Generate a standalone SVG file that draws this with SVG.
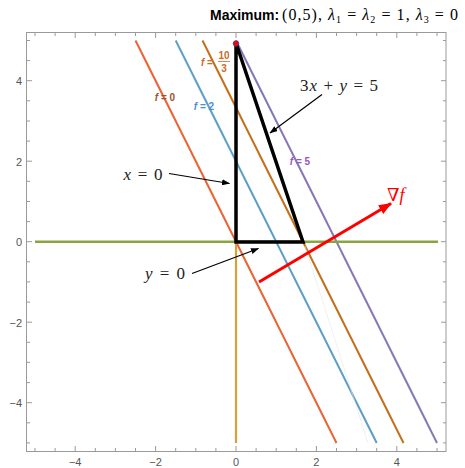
<svg xmlns="http://www.w3.org/2000/svg" width="465" height="468" viewBox="0 0 465 468">
<defs>
<style>
.frame{fill:none;stroke:#9a9a9a;stroke-width:1}
.tick{stroke:#9a9a9a;stroke-width:1}
.tl{font-family:"Liberation Sans",Arial,sans-serif;font-size:11px;fill:#555}
.fl{fill:none;stroke-width:2;stroke-linecap:butt}
.math{font-family:"Liberation Serif","DejaVu Serif",serif;font-size:17px;fill:#222}
.it{font-style:italic}
.lab{font-family:"Liberation Sans",Arial,sans-serif;font-size:10px;font-weight:bold}
.ann{stroke:#000;stroke-width:1.2;fill:none}
</style>
<marker id="ah" markerWidth="8" markerHeight="6" refX="7.5" refY="3" orient="auto" markerUnits="userSpaceOnUse">
<path d="M0,0 L8,3 L0,6 Z" fill="#000"/>
</marker>
<marker id="rh" markerWidth="14" markerHeight="10" refX="12" refY="5" orient="auto" markerUnits="userSpaceOnUse">
<path d="M0,0 L13,5 L0,10 Z" fill="#f00"/>
</marker>
</defs>
<rect width="465" height="468" fill="#fff"/>

<g id="title">
<text x="210" y="20" font-family="'Liberation Sans',Arial,sans-serif" font-size="14" font-weight="bold" fill="#000">Maximum:</text>
<text x="282" y="20" font-family="'Liberation Serif','DejaVu Serif',serif" font-size="16" fill="#000" textLength="176" lengthAdjust="spacing">(0,5), <tspan font-style="italic">λ</tspan><tspan font-size="10" dy="3">1</tspan><tspan dy="-3"> = </tspan><tspan font-style="italic">λ</tspan><tspan font-size="10" dy="3">2</tspan><tspan dy="-3"> = 1, </tspan><tspan font-style="italic">λ</tspan><tspan font-size="10" dy="3">3</tspan><tspan dy="-3"> = 0</tspan></text>
</g>

<g id="axes">
<rect class="frame" x="26.5" y="32.5" width="419.5" height="419"/>
<g class="tick">
<path d="M35,451 v-3 M55.1,451 v-3 M75.2,451 v-5 M95.3,451 v-3 M115.4,451 v-3 M135.5,451 v-3 M155.6,451 v-5 M175.7,451 v-3 M195.8,451 v-3 M215.9,451 v-3 M236,451 v-5 M256.1,451 v-3 M276.2,451 v-3 M296.3,451 v-3 M316.4,451 v-5 M336.5,451 v-3 M356.6,451 v-3 M376.7,451 v-3 M396.8,451 v-5 M416.9,451 v-3 M437,451 v-3"/>
<path d="M35,33 v3 M55.1,33 v3 M75.2,33 v5 M95.3,33 v3 M115.4,33 v3 M135.5,33 v3 M155.6,33 v5 M175.7,33 v3 M195.8,33 v3 M215.9,33 v3 M236,33 v5 M256.1,33 v3 M276.2,33 v3 M296.3,33 v3 M316.4,33 v5 M336.5,33 v3 M356.6,33 v3 M376.7,33 v3 M396.8,33 v5 M416.9,33 v3 M437,33 v3"/>
<path d="M27,40.5 h3 M27,60.6 h3 M27,80.7 h5 M27,100.8 h3 M27,121 h3 M27,141.1 h3 M27,161.2 h5 M27,181.3 h3 M27,201.5 h3 M27,221.6 h3 M27,241.7 h5 M27,261.8 h3 M27,281.9 h3 M27,302.1 h3 M27,322.2 h5 M27,342.3 h3 M27,362.4 h3 M27,382.6 h3 M27,402.7 h5 M27,422.8 h3 M27,442.9 h3"/>
<path d="M446,40.5 h-3 M446,60.6 h-3 M446,80.7 h-5 M446,100.8 h-3 M446,121 h-3 M446,141.1 h-3 M446,161.2 h-5 M446,181.3 h-3 M446,201.5 h-3 M446,221.6 h-3 M446,241.7 h-5 M446,261.8 h-3 M446,281.9 h-3 M446,302.1 h-3 M446,322.2 h-5 M446,342.3 h-3 M446,362.4 h-3 M446,382.6 h-3 M446,402.7 h-5 M446,422.8 h-3 M446,442.9 h-3"/>
</g>
<g class="tl" text-anchor="middle">
<text x="75.2" y="466">−4</text>
<text x="155.6" y="466">−2</text>
<text x="236" y="466">0</text>
<text x="316.4" y="466">2</text>
<text x="396.8" y="466">4</text>
</g>
<g class="tl" text-anchor="end">
<text x="22" y="85">4</text>
<text x="22" y="165.5">2</text>
<text x="22" y="246">0</text>
<text x="22" y="326.5">−2</text>
<text x="22" y="407">−4</text>
</g>
</g>

<g id="level-lines">
<line class="fl" x1="135.5" y1="40.5" x2="336.5" y2="443" stroke="#EB6235"/>
<line class="fl" x1="175.7" y1="40.5" x2="376.7" y2="443" stroke="#5D9EC7"/>
<line class="fl" x1="202.5" y1="40.5" x2="403.5" y2="443" stroke="#C56E1A"/>
<line class="fl" x1="236" y1="40.5" x2="437" y2="443" stroke="#8778B3"/>
<line x1="305" y1="246" x2="368" y2="443" stroke="#e6e6e6" stroke-width="0.6"/>
</g>

<g id="constraint-lines">
<line x1="35" y1="241.7" x2="438" y2="241.7" stroke="#8AA540" stroke-width="2.5"/>
<line x1="236" y1="241.7" x2="236" y2="443" stroke="#D9A03A" stroke-width="2.2"/>
</g>

<g id="gradient">
<line x1="259" y1="282" x2="391" y2="203.5" stroke="#f00" stroke-width="3" marker-end="url(#rh)"/>
<text x="387" y="201" font-family="'Liberation Serif','DejaVu Serif',serif" font-size="18" fill="#f00">∇<tspan font-style="italic">f</tspan></text>
</g>

<g id="feasible-region">
<path d="M236,242 L236,43 L303,242 Z" fill="none" stroke="#000" stroke-width="3.5" stroke-linejoin="miter"/>
</g>

<g id="max-point">
<circle cx="236" cy="43.5" r="2.8" fill="#f00" stroke="#2b3fa0" stroke-width="0.8"/>
</g>

<g id="level-labels">
<text class="lab" x="165" y="100.5" text-anchor="middle" fill="#A0522D"><tspan font-style="italic">f</tspan> = 0</text>
<text class="lab" x="204" y="110" text-anchor="middle" fill="#4A8FD0"><tspan font-style="italic">f</tspan> = 2</text>
<text class="lab" x="201" y="65.5" fill="#D2691E"><tspan font-style="italic">f</tspan> =</text>
<text class="lab" x="224" y="58.5" text-anchor="middle" fill="#D2691E">10</text>
<line x1="218" y1="61.5" x2="230" y2="61.5" stroke="#D2691E" stroke-width="0.8"/>
<text class="lab" x="224" y="72" text-anchor="middle" fill="#D2691E">3</text>
<text class="lab" x="300" y="165" text-anchor="middle" fill="#9B55C0"><tspan font-style="italic">f</tspan> = 5</text>
</g>

<g id="connectors">
<line class="ann" x1="322" y1="94.5" x2="270" y2="133" marker-end="url(#ah)"/>
<line class="ann" x1="169" y1="173.5" x2="229.5" y2="183.5" marker-end="url(#ah)"/>
<line class="ann" x1="192" y1="273.5" x2="258.5" y2="248.5" marker-end="url(#ah)"/>
</g>

<g id="annotation-labels">
<text class="math" x="339" y="91" text-anchor="middle" textLength="78" lengthAdjust="spacing">3<tspan class="it">x</tspan> + <tspan class="it">y</tspan> = 5</text>
<text class="math" x="143" y="179.5" text-anchor="middle" textLength="39" lengthAdjust="spacing"><tspan class="it">x</tspan> = 0</text>
<text class="math" x="165" y="279" text-anchor="middle" textLength="40" lengthAdjust="spacing"><tspan class="it">y</tspan> = 0</text>
</g>
</svg>
